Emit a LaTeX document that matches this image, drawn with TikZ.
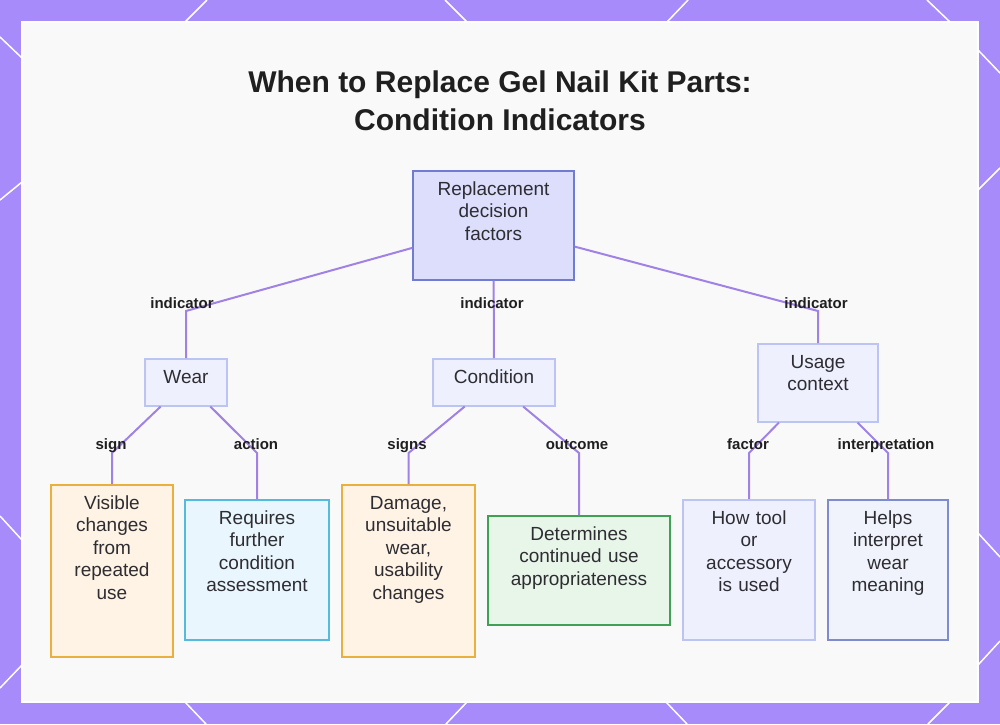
\documentclass[tikz,border=0pt]{standalone}
\usepackage{fontspec}
\setmainfont{Liberation Sans}
\usepackage{xcolor}
\usetikzlibrary{positioning}

\definecolor{bgpurple}{RGB}{167,139,250}
\definecolor{panelgray}{RGB}{249,249,249}
\definecolor{edgepurple}{RGB}{160,130,228}
\definecolor{textgray}{RGB}{45,45,50}
\definecolor{rootfill}{RGB}{220,222,252}
\definecolor{rootline}{RGB}{112,124,210}
\definecolor{midfill}{RGB}{238,240,253}
\definecolor{midline}{RGB}{188,196,244}
\definecolor{orfill}{RGB}{254,243,229}
\definecolor{orline}{RGB}{234,176,62}
\definecolor{cyfill}{RGB}{233,246,253}
\definecolor{cyline}{RGB}{84,186,222}
\definecolor{grfill}{RGB}{232,245,233}
\definecolor{grline}{RGB}{64,160,84}
\definecolor{hpfill}{RGB}{240,243,252}
\definecolor{hpline}{RGB}{126,140,206}

\begin{document}
\begin{tikzpicture}[x=1pt, y=-1pt,
  box/.style={draw, line width=1.5pt, anchor=north, inner sep=0pt, align=center,
    text height=24.5pt, text=textgray, font=\fontsize{19}{22.5}\selectfont},
  edge/.style={edgepurple, line width=2pt},
  elabel/.style={text=black!88, inner sep=0pt, text height=11pt, text depth=3pt,
    font=\fontsize{15}{18}\selectfont\bfseries},
  hexline/.style={white, line width=1.5pt}]

\useasboundingbox (0,0) rectangle (1000,724);

% Background
\fill[bgpurple] (0,0) rectangle (1000,724);
\foreach \xa/\ya/\xb/\yb in {185/22/207/0, 445/0/467/22, 667/22/688/0, 927/0/950/22,
    185/702/206/724, 467/702/446/724, 666/702/687/724, 950/702/928/724,
    0/37/22/58, 22/182/0/200, 0/516/22/540, 22/665/0/688,
    978/50/1000/73, 978/190/1000/168, 978/533/1000/557, 978/665/1000/641}
  \draw[hexline] (\xa,\ya) -- (\xb,\yb);
\draw[white, line width=2pt, fill=panelgray] (22,22) rectangle (978,702);

% Title
\node[align=center, text=black!88, font=\fontsize{30}{38}\selectfont\bfseries] (title) at (500,101)
  {When to Replace Gel Nail Kit Parts:\\Condition Indicators};

% Nodes
\node[box, fill=rootfill, draw=rootline, text width=161pt, text depth=84.5pt] (root) at (493.5,170)
  {Replacement\\decision\\factors};
\node[box, fill=midfill, draw=midline, text width=82pt, text depth=22.5pt] (wear) at (186,358) {Wear};
\node[box, fill=midfill, draw=midline, text width=122pt, text depth=22.5pt] (cond) at (494,358) {Condition};
\node[box, fill=midfill, draw=midline, text width=120pt, text depth=53.5pt] (usage) at (818,343)
  {Usage\\context};

\node[box, fill=orfill, draw=orline, text width=122pt, text depth=147.5pt] (visible) at (112,484)
  {Visible\\changes\\from\\repeated\\use};
\node[box, fill=cyfill, draw=cyline, text width=144pt, text depth=115.5pt] (further) at (257,499)
  {Requires\\further\\condition\\assessment};
\node[box, fill=orfill, draw=orline, text width=133pt, text depth=147.5pt] (damage) at (408.5,484)
  {Damage,\\unsuitable\\wear,\\usability\\changes};
\node[box, fill=grfill, draw=grline, text width=182pt, text depth=84.5pt] (determ) at (579,515)
  {Determines\\continued use\\appropriateness};
\node[box, fill=midfill, draw=midline, text width=132pt, text depth=115.5pt] (howused) at (749,499)
  {How tool\\or\\accessory\\is used};
\node[box, fill=hpfill, draw=hpline, text width=120pt, text depth=115.5pt] (helps) at (888,499)
  {Helps\\interpret\\wear\\meaning};

% Bends
\coordinate (bwear) at (186,311);
\coordinate (busage) at (818,311);
\coordinate (bvis) at (112,453);
\coordinate (bfur) at (257,453);
\coordinate (bdam) at (408.5,453);
\coordinate (bdet) at (579,453);
\coordinate (bhow) at (749,453);
\coordinate (bhelp) at (888,453);

% Connectors
\draw[edge] (root) -- (bwear) -- (wear.north);
\draw[edge] (root) -- (cond);
\draw[edge] (root) -- (busage) -- (usage.north);
\draw[edge] (wear) -- (bvis) -- (visible.north);
\draw[edge] (wear) -- (bfur) -- (further.north);
\draw[edge] (cond) -- (bdam) -- (damage.north);
\draw[edge] (cond) -- (bdet) -- (determ.north);
\draw[edge] (usage) -- (bhow) -- (howused.north);
\draw[edge] (usage) -- (bhelp) -- (helps.north);

% Labels
\node[elabel] (lwear) at (182,304) {indicator};
\node[elabel] (lcond) at (492,304) {indicator};
\node[elabel] (lusage) at (816,304) {indicator};
\node[elabel] (lvis) at (111,445) {sign};
\node[elabel] (lfur) at (256,445) {action};
\node[elabel] (ldam) at (407,445) {signs};
\node[elabel] (ldet) at (577,445) {outcome};
\node[elabel] (lhow) at (748,445) {factor};
\node[elabel] (lhelp) at (886,445) {interpretation};
\end{tikzpicture}
\end{document}
